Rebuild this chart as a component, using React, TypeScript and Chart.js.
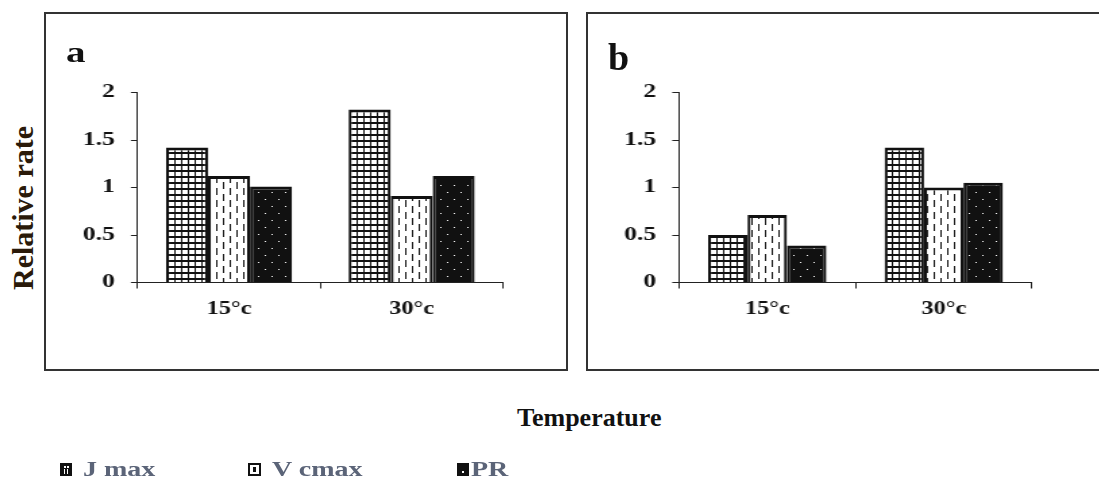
import React, { useEffect, useRef } from 'react';
import { Chart, registerables } from 'chart.js';

Chart.register(...registerables);

// ---------- data ----------
const categories = ['15°c', '30°c'];
const seriesNames = ['J max', 'V cmax', 'PR'];
const panelAJmax = [1.42, 1.82];
const panelAVcmax = [1.12, 0.91];
const panelAPR = [1.01, 1.12];
const panelBJmax = [0.5, 1.42];
const panelBVcmax = [0.71, 1.0];
const panelBPR = [0.39, 1.05];
const yTickValues = [0, 0.5, 1, 1.5, 2];
const yTickLabels = ['0', '0.5', '1', '1.5', '2'];
const xAxisTitle = 'Temperature';
const yAxisTitle = 'Relative rate';
const panelLabels = ['a', 'b'];

// ---------- style ----------
const STRETCH = 1.35;
const SERIF = "'Liberation Serif', 'Times New Roman', Times, serif";
const INK = '#111111';
const LEGEND_COLOR = '#5b6478';

function makePattern(kind: number, target: CanvasRenderingContext2D): CanvasPattern | string {
  const c = document.createElement('canvas');
  let g: CanvasRenderingContext2D;
  if (kind === 0) {
    c.width = 5; c.height = 6;
    g = c.getContext('2d')!;
    g.fillStyle = '#ffffff'; g.fillRect(0, 0, 5, 6);
    g.fillStyle = INK; g.fillRect(0, 0, 1, 6); g.fillRect(0, 0, 5, 2);
  } else if (kind === 1) {
    c.width = 10; c.height = 12;
    g = c.getContext('2d')!;
    g.fillStyle = '#ffffff'; g.fillRect(0, 0, 10, 12);
    g.fillStyle = INK; g.fillRect(1, 0, 1, 7); g.fillRect(6, 6, 1, 7); g.fillRect(6, 0, 1, 1);
  } else {
    c.width = 10; c.height = 14;
    g = c.getContext('2d')!;
    g.fillStyle = INK; g.fillRect(0, 0, 10, 14);
    g.fillStyle = '#ffffff'; g.fillRect(2, 3, 1, 1); g.fillRect(7, 10, 1, 1);
  }
  return target.createPattern(c, 'repeat') || INK;
}

type Geom = { w: number; h: number; top: number; right: number; yw: number; xh: number; cat: number };

function buildConfig(ctx: CanvasRenderingContext2D, values: number[][], geom: Geom): any {
  const patterns = [makePattern(0, ctx), makePattern(1, ctx), makePattern(2, ctx)];
  const xFont = { family: SERIF, size: 18, weight: 'bold' as const };
  const yFont = { family: SERIF, size: 19, weight: 'bold' as const };
  return {
    type: 'bar',
    data: {
      labels: categories,
      datasets: values.map((v, i) => ({
        label: seriesNames[i],
        data: v,
        backgroundColor: patterns[i],
        borderColor: INK,
        borderWidth: { top: 3, left: 2.2, right: 2.2, bottom: 0 },
        barPercentage: 1,
        categoryPercentage: geom.cat,
      })),
    },
    options: {
      animation: false,
      responsive: false,
      devicePixelRatio: 1,
      layout: { padding: { left: 0, top: geom.top, right: geom.right, bottom: 0 } },
      plugins: {
        legend: { display: false },
        tooltip: { enabled: false },
        title: { display: false },
      },
      scales: {
        x: {
          type: 'category',
          offset: true,
          grid: {
            display: true,
            offset: true,
            drawOnChartArea: false,
            drawTicks: true,
            tickLength: 6,
            color: '#222222',
            lineWidth: 1,
          },
          border: { display: true, color: '#222222', width: 1 },
          ticks: { color: INK, font: xFont, padding: 10, maxRotation: 0, autoSkip: false },
          afterFit: (s: any) => { s.height = geom.xh; },
        },
        y: {
          type: 'linear',
          min: 0,
          max: 2,
          afterBuildTicks: (s: any) => { s.ticks = yTickValues.map((v) => ({ value: v })); },
          grid: {
            display: true,
            drawOnChartArea: false,
            drawTicks: true,
            tickLength: 5,
            color: '#222222',
            lineWidth: 1,
          },
          border: { display: true, color: '#222222', width: 1 },
          ticks: {
            color: INK,
            font: yFont,
            padding: 12,
            callback: (_v: any, i: number) => yTickLabels[i] ?? '',
          },
          afterFit: (s: any) => { s.width = geom.yw; },
        },
      },
    },
  };
}

function Panel(props: { values: number[][]; geom: Geom; left: number; top: number }) {
  const ref = useRef<HTMLCanvasElement | null>(null);
  useEffect(() => {
    const canvas = ref.current;
    if (!canvas) return;
    const ctx = canvas.getContext('2d')!;
    const chart = new Chart(ctx, buildConfig(ctx, props.values, props.geom));
    return () => chart.destroy();
  }, []);
  return (
    <canvas
      ref={ref}
      width={props.geom.w}
      height={props.geom.h}
      style={{
        position: 'absolute',
        left: props.left,
        top: props.top,
        display: 'block',
        transform: `scaleX(${STRETCH})`,
        transformOrigin: '0 0',
      }}
    />
  );
}

const geomA: Geom = { w: 385, h: 355, top: 78.5, right: 46.5, yw: 67.9, xh: 86.5, cat: 0.69 };
const geomB: Geom = { w: 377, h: 355, top: 78.5, right: 48.1, yw: 67.4, xh: 86.5, cat: 0.67 };

function LegendSwatch(props: { kind: number; left: number }) {
  const base: React.CSSProperties = {
    position: 'absolute',
    left: props.left,
    top: 463,
    width: 12,
    height: 13,
    background: INK,
  };
  if (props.kind === 0) {
    return (
      <div style={base}>
        <div style={{ position: 'absolute', left: 4, top: 3, width: 2, height: 2, background: '#fff' }} />
        <div style={{ position: 'absolute', left: 7, top: 3, width: 2, height: 2, background: '#fff' }} />
        <div style={{ position: 'absolute', left: 4, top: 6, width: 1, height: 5, background: '#fff' }} />
        <div style={{ position: 'absolute', left: 7, top: 6, width: 1, height: 5, background: '#fff' }} />
      </div>
    );
  }
  if (props.kind === 1) {
    return (
      <div style={{ ...base, width: 13 }}>
        <div style={{ position: 'absolute', left: 2, top: 2, width: 9, height: 9, background: '#fff' }} />
        <div style={{ position: 'absolute', left: 5, top: 4, width: 3, height: 5, background: INK }} />
      </div>
    );
  }
  return (
    <div style={base}>
      <div style={{ position: 'absolute', left: 5, top: 8, width: 2, height: 2, background: '#fff' }} />
    </div>
  );
}

export default function App() {
  const textBase: React.CSSProperties = {
    position: 'absolute',
    fontFamily: SERIF,
    fontWeight: 'bold',
    lineHeight: 1,
    whiteSpace: 'nowrap',
    margin: 0,
  };
  return (
    <div
      style={{
        position: 'absolute',
        left: 0,
        top: 0,
        width: 1099,
        height: 479,
        overflow: 'hidden',
        background: '#ffffff',
      }}
    >
      {/* panel frames */}
      <div style={{ position: 'absolute', left: 44, top: 12, width: 524, height: 359, border: '2px solid #333', boxSizing: 'border-box' }} />
      <div style={{ position: 'absolute', left: 586, top: 12, width: 520, height: 359, border: '2px solid #333', boxSizing: 'border-box' }} />

      <Panel values={[panelAJmax, panelAVcmax, panelAPR]} geom={geomA} left={46} top={14} />
      <Panel values={[panelBJmax, panelBVcmax, panelBPR]} geom={geomB} left={588} top={14} />

      {/* panel letters */}
      <div style={{ ...textBase, left: 66, top: 37, fontSize: 30, color: INK, transform: 'scaleX(1.3)', transformOrigin: '0 0' }}>{panelLabels[0]}</div>
      <div style={{ ...textBase, left: 608, top: 38, fontSize: 38, color: INK }}>{panelLabels[1]}</div>

      {/* y axis title */}
      <div
        style={{
          ...textBase,
          left: 23,
          top: 208,
          fontSize: 30,
          color: '#2a1a0a',
          transform: 'translate(-50%, -50%) rotate(-90deg)',
        }}
      >
        {yAxisTitle}
      </div>

      {/* x axis title */}
      <div style={{ ...textBase, left: 517, top: 405, fontSize: 26, color: INK }}>{xAxisTitle}</div>

      {/* legend */}
      <LegendSwatch kind={0} left={60} />
      <LegendSwatch kind={1} left={248} />
      <LegendSwatch kind={2} left={457} />
      {[83, 272, 471].map((x, i) => (
        <div
          key={seriesNames[i]}
          style={{ ...textBase, left: x, top: 459, fontSize: 20, color: LEGEND_COLOR, transform: 'scaleX(1.4)', transformOrigin: '0 0' }}
        >
          {seriesNames[i]}
        </div>
      ))}
    </div>
  );
}
